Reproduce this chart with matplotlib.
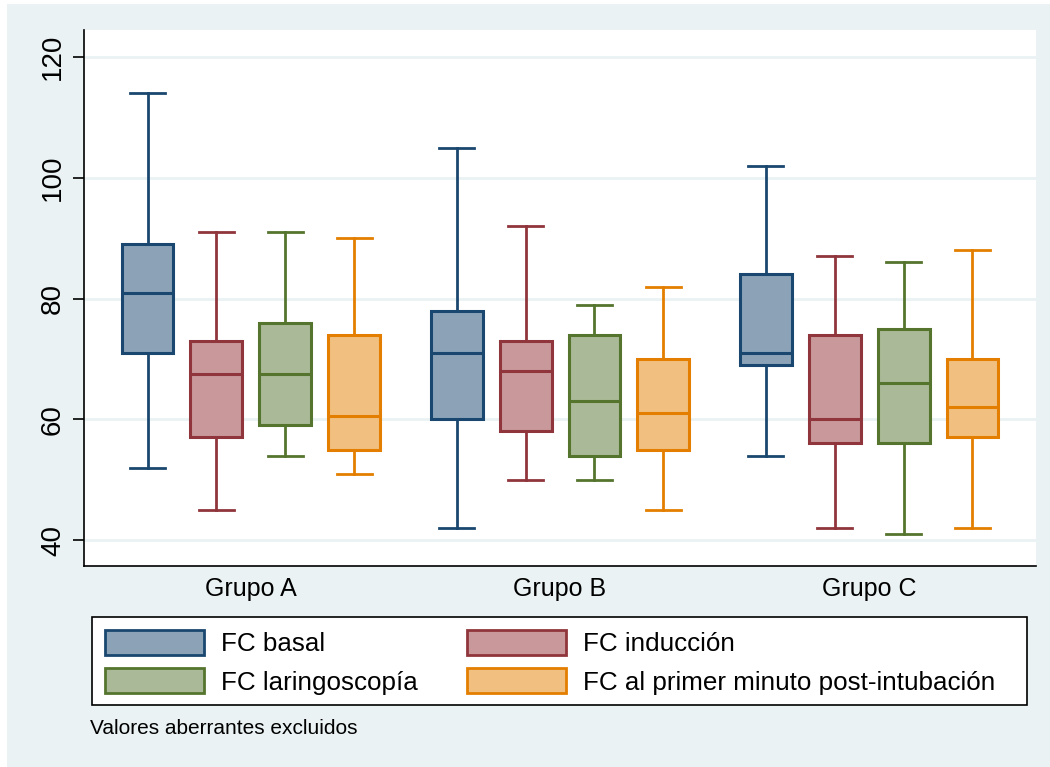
import matplotlib.pyplot as plt
from matplotlib.patches import Rectangle, Patch
import numpy as np

plt.rcParams['font.family'] = ['Liberation Sans', 'DejaVu Sans']

groups = ["Grupo A", "Grupo B", "Grupo C"]
series = ["FC basal", "FC inducción", "FC laringoscopía",
          "FC al primer minuto post-intubación"]

# per series, per group: lower whisker, q1, median, q3, upper whisker
whislo = [[52, 42, 54], [45, 50, 42], [54, 50, 41], [51, 45, 42]]
q1 = [[71, 60, 69], [57, 58, 56], [59, 54, 56], [55, 55, 57]]
med = [[81, 71, 71], [67.5, 68, 60], [67.5, 63, 66], [60.5, 61, 62]]
q3 = [[89, 78, 84], [73, 73, 74], [76, 74, 75], [74, 70, 70]]
whishi = [[114, 105, 102], [91, 92, 87], [91, 79, 86], [90, 82, 88]]

edge_colors = ["#1a476f", "#90353b", "#55752f", "#e37e00"]
fill_colors = ["#8ca3b7", "#c8989b", "#aab997", "#f1bf7f"]

bg = "#eaf2f3"

fig = plt.figure(figsize=(10.5, 7.67), dpi=100, facecolor="white")
fig.patches.append(Rectangle((7 / 1050, 0), 1, 1 - 4 / 767,
                             transform=fig.transFigure, facecolor=bg,
                             edgecolor="none", zorder=-10))

ax = fig.add_axes([84 / 1050, 1 - 566 / 767, (1036 - 84) / 1050, (566 - 30) / 767])
ax.set_facecolor("white")

offsets = np.array([-1.5, -0.5, 0.5, 1.5]) * 0.223
width = 0.168
for s in range(4):
    stats = []
    for g in range(3):
        stats.append(dict(whislo=whislo[s][g], q1=q1[s][g], med=med[s][g],
                          q3=q3[s][g], whishi=whishi[s][g], fliers=[]))
    pos = np.arange(1, 4) + offsets[s]
    c = edge_colors[s]
    ax.bxp(stats, positions=pos, widths=width, capwidths=0.113,
           patch_artist=True, showfliers=False, manage_ticks=False,
           boxprops=dict(facecolor=fill_colors[s], edgecolor=c, linewidth=2.2),
           medianprops=dict(color=c, linewidth=2.2),
           whiskerprops=dict(color=c, linewidth=2),
           capprops=dict(color=c, linewidth=2))

ax.set_xlim(0.46, 3.54)
ax.set_ylim(35.7, 124.5)
ax.set_yticks([40, 60, 80, 100, 120])
ax.set_xticks([1, 2, 3])
ax.set_xticklabels(groups)
ax.tick_params(axis="y", labelsize=20, length=8, width=1.2, pad=5,
               labelrotation=90)
for lab in ax.get_yticklabels():
    lab.set_va("center")
ax.tick_params(axis="x", labelsize=18, length=0, pad=8)
ax.yaxis.grid(True, color=bg, linewidth=2)
ax.set_axisbelow(True)
for side in ["top", "right"]:
    ax.spines[side].set_visible(False)
for side in ["left", "bottom"]:
    ax.spines[side].set_linewidth(1.2)

# legend box
fig.patches.append(Rectangle((92 / 1050, 1 - 705 / 767), (1027 - 92) / 1050,
                             (705 - 617) / 767, transform=fig.transFigure,
                             facecolor="white", edgecolor="black",
                             linewidth=1.2, zorder=1))

handles = [Patch(facecolor=fill_colors[i], edgecolor=edge_colors[i],
                 linewidth=2) for i in range(4)]
order = [0, 2, 1, 3]
leg = fig.legend([handles[i] for i in order], [series[i] for i in order],
                 ncol=2, loc="upper left",
                 bbox_to_anchor=(92 / 1050, 1 - 617 / 767),
                 fontsize=18.7, frameon=False,
                 handlelength=3.8, handleheight=1.1, handletextpad=0.66,
                 columnspacing=1.9, borderpad=0.5, labelspacing=0.47,
                 borderaxespad=0)
leg.set_zorder(2)

fig.text(90 / 1050, 1 - 728 / 767, "Valores aberrantes excluidos",
         fontsize=15, va="center", ha="left")

fig.savefig("out.png", dpi=100, facecolor=fig.get_facecolor())
